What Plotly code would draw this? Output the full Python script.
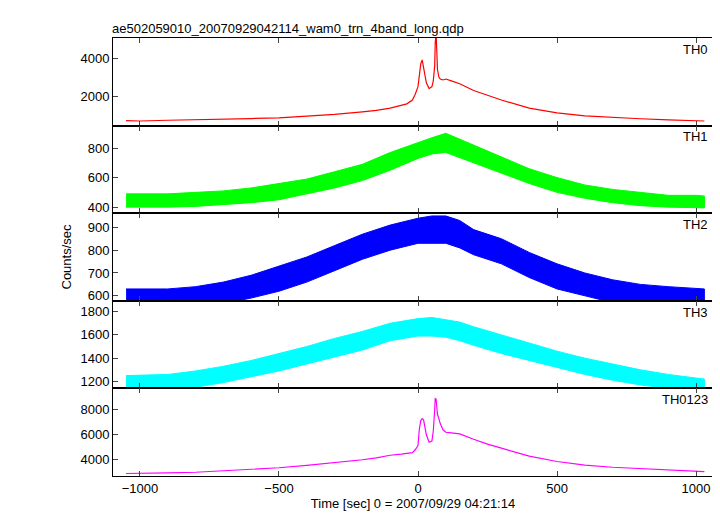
import plotly.graph_objects as go
from plotly.subplots import make_subplots

t_fine = [-1050,-1000,-900,-800,-700,-600,-500,-400,-300,-200,-150,-100,-60,-40,-20,-10,0,5,10,15,20,30,40,50,55,60,62,65,68,70,75,80,90,100,120,150,200,250,300,400,500,600,700,800,900,1000,1030]
th0 = [720,700,740,760,800,830,870,950,1050,1180,1260,1380,1500,1600,1800,2100,2500,3300,3700,3900,3500,2700,2400,2500,2800,3600,4800,5300,4200,3400,3000,2900,2850,2900,2800,2650,2300,2050,1800,1380,1130,970,880,820,760,720,700]
th0123 = [2900,2900,2950,3000,3100,3200,3360,3550,3750,4000,4150,4360,4450,4500,4570,4800,5140,6500,7140,7300,7200,6000,5400,5500,6300,8000,8900,8860,7900,7640,7300,6900,6400,6200,6150,6070,5640,5250,4930,4290,3860,3570,3400,3290,3150,3070,3050]

t_c = [-1050,-900,-800,-700,-600,-500,-400,-300,-200,-100,0,50,100,150,200,300,400,500,600,700,800,900,1000,1030]
th1_hi = [490,490,500,510,530,560,590,640,690,770,840,870,900,860,820,740,660,600,550,520,500,480,480,475]
th1_lo = [400,400,405,415,430,450,490,530,580,650,730,760,770,740,700,630,560,500,460,430,410,400,395,395]
th2_hi = [630,630,640,660,690,730,770,820,870,910,940,950,950,930,890,850,790,740,700,670,650,640,630,630]
th2_lo = [540,540,550,565,590,620,660,710,760,800,830,830,830,810,780,740,680,630,600,570,555,545,540,540]
th3_hi = [1250,1260,1290,1330,1380,1440,1500,1570,1630,1700,1740,1750,1730,1710,1670,1600,1530,1460,1400,1350,1300,1260,1230,1220]
th3_lo = [1110,1120,1150,1190,1240,1290,1350,1410,1470,1550,1590,1590,1580,1550,1510,1440,1380,1320,1260,1210,1170,1140,1110,1100]

labels = ["TH0","TH1","TH2","TH3","TH0123"]
colors = ["#ff0000","#00ff00","#0000ff","#00ffff","#ff00ff"]
yranges = [[460,5050],[359,952],[578,962],[1140,1893],[2700,9714]]
ytick = [[2000,4000],[400,600,800],[600,700,800,900],[1200,1400,1600,1800],[4000,6000,8000]]

fig = make_subplots(rows=5, cols=1, shared_xaxes=True, vertical_spacing=0)
fig.add_trace(go.Scatter(x=t_fine, y=th0, mode="lines", line=dict(color=colors[0], width=1.2)), 1, 1)
for r,(hi,lo) in enumerate([(th1_hi,th1_lo),(th2_hi,th2_lo),(th3_hi,th3_lo)], start=2):
    fig.add_trace(go.Scatter(x=t_c+t_c[::-1], y=hi+lo[::-1], mode="lines", fill="toself",
                             fillcolor=colors[r-1], line=dict(color=colors[r-1], width=1)), r, 1)
fig.add_trace(go.Scatter(x=t_fine, y=th0123, mode="lines", line=dict(color=colors[4], width=1.2)), 5, 1)

for i in range(5):
    fig.update_yaxes(row=i+1, col=1, range=yranges[i], tickvals=ytick[i], ticks="inside",
                     ticklen=5, showgrid=False, zeroline=False, showline=True, mirror=True,
                     linecolor="black", linewidth=1, automargin=False)
    fig.update_xaxes(row=i+1, col=1, range=[-1097,1061], tickvals=[-1000,-500,0,500,1000],
                     ticks="inside", ticklen=5, showgrid=False, zeroline=False, showline=True,
                     mirror="allticks", linecolor="black", linewidth=1, automargin=False)
    fig.add_annotation(text=labels[i], xref=f"x{'' if i==0 else i+1} domain", yref=f"y{'' if i==0 else i+1} domain",
                       x=0.995, y=0.98, xanchor="right", yanchor="top", showarrow=False, font=dict(size=13))
fig.update_xaxes(row=5, col=1, title_text="Time [sec] 0 = 2007/09/29 04:21:14", title_standoff=0,
                 title_font=dict(size=13))
fig.add_annotation(text="Counts/sec", xref="paper", yref="paper", x=-0.095, y=0.5, textangle=-90,
                   showarrow=False, font=dict(size=13))
fig.add_annotation(text="ae502059010_20070929042114_wam0_trn_4band_long.qdp", xref="paper", yref="paper",
                   x=-0.005, y=1.0, xanchor="left", yanchor="bottom", showarrow=False, font=dict(size=13))
fig.update_layout(width=720, height=516, showlegend=False, plot_bgcolor="white", paper_bgcolor="white",
                  margin=dict(l=105, r=15, t=30, b=48),
                  font=dict(family="Liberation Sans, Arial", size=13, color="black"))
fig.write_html("out.html")
